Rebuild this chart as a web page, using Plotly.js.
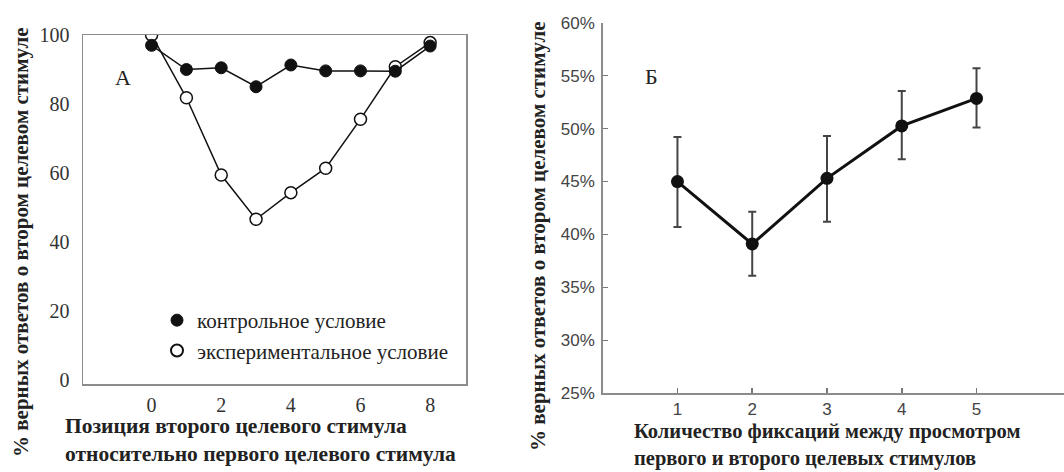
<!DOCTYPE html>
<html>
<head>
<meta charset="utf-8">
<script src="https://cdn.plot.ly/plotly-3.0.1.min.js"></script>
<style>html,body{margin:0;padding:0;background:#fff;}#chart{width:1064px;height:472px;}</style>
</head>
<body>
<div id="chart"></div>
<script>
// ---- Panel А data ----
const positions = [0, 1, 2, 3, 4, 5, 6, 7, 8];
const controlA = [97, 90, 90.5, 85, 91.3, 89.6, 89.6, 89.5, 96.8];
const experimentalA = [100, 81.8, 59.4, 46.6, 54.3, 61.4, 75.6, 90.8, 97.8];
const legendNames = ['контрольное условие', 'экспериментальное условие'];
const ticksA_x = [0, 2, 4, 6, 8];
const ticksA_y = [0, 20, 40, 60, 80, 100];

// ---- Panel Б data ----
const fixations = [1, 2, 3, 4, 5];
const accuracyB = [45.0, 39.1, 45.3, 50.25, 52.85];
const upperB = [49.2, 42.15, 49.3, 53.55, 55.7];
const lowerB = [40.7, 36.1, 41.2, 47.1, 50.1];
const ticksB_x = [1, 2, 3, 4, 5];
const ticksB_y = [25, 30, 35, 40, 45, 50, 55, 60];
const ticksB_ytext = ticksB_y.map(v => v + '%');

// ---- Text ----
const yTitle = '% верных ответов о втором целевом стимуле';
const xTitleA = 'Позиция второго целевого стимула<br>относительно первого целевого стимула';
const xTitleB = 'Количество фиксаций между просмотром<br>первого и второго целевых стимулов';

const W = 1064, H = 472;
const px = v => v / W;
const py = v => 1 - v / H;

const serif = 'Liberation Serif';
const sans = 'Liberation Sans';

const traces = [
  {x: positions, y: experimentalA, xaxis: 'x', yaxis: 'y', mode: 'lines+markers', showlegend: false,
   line: {color: '#111', width: 1.5},
   marker: {symbol: 'circle', size: 12, color: '#fff', line: {color: '#111', width: 1.5}}},
  {x: positions, y: controlA, xaxis: 'x', yaxis: 'y', mode: 'lines+markers', showlegend: false,
   line: {color: '#111', width: 1.5},
   marker: {symbol: 'circle', size: 12, color: '#111', line: {color: '#111', width: 1}}},
  {x: [null], y: [null], xaxis: 'x', yaxis: 'y', mode: 'markers', name: legendNames[0], legendgroup: 'a',
   marker: {symbol: 'circle', size: 12, color: '#111', line: {color: '#111', width: 1}}},
  {x: [null], y: [null], xaxis: 'x', yaxis: 'y', mode: 'markers', name: legendNames[1], legendgroup: 'b',
   marker: {symbol: 'circle', size: 12, color: '#fff', line: {color: '#111', width: 2}}},
  {x: fixations, y: accuracyB, xaxis: 'x2', yaxis: 'y2', mode: 'lines+markers', showlegend: false,
   line: {color: '#111', width: 3},
   marker: {symbol: 'circle', size: 13, color: '#111'},
   error_y: {type: 'data', symmetric: false,
     array: upperB.map((u, i) => u - accuracyB[i]),
     arrayminus: lowerB.map((l, i) => accuracyB[i] - l),
     color: '#444', thickness: 2, width: 4}}
];

const layout = {
  width: W, height: H,
  margin: {l: 0, r: 0, t: 0, b: 0},
  paper_bgcolor: '#fff', plot_bgcolor: 'rgba(0,0,0,0)',
  showlegend: true,
  legend: {x: px(157), y: py(300), xanchor: 'left', yanchor: 'top',
    bgcolor: 'rgba(0,0,0,0)', font: {family: serif, size: 21, color: '#222'},
    tracegroupgap: 0, traceorder: 'grouped'},
  xaxis: {domain: [px(83), px(466)], range: [-1.97, 9.03], tickvals: ticksA_x,
    showgrid: false, zeroline: false, showline: true, mirror: true, linecolor: '#8c8c8c', linewidth: 1.5,
    ticks: '', ticklabelstandoff: 2, tickfont: {family: serif, size: 20, color: '#333'}},
  yaxis: {domain: [py(384), py(35)], range: [-1.16, 100], tickvals: ticksA_y,
    showgrid: false, zeroline: false, showline: true, mirror: true, linecolor: '#8c8c8c', linewidth: 1.5,
    ticks: '', ticklabelstandoff: 8, tickfont: {family: serif, size: 20, color: '#333'}},
  xaxis2: {domain: [px(602.7), 1], range: [0, 6.17], tickvals: ticksB_x, anchor: 'y2',
    showgrid: false, zeroline: false, showline: true, linecolor: '#8c8c8c', linewidth: 1.5,
    ticks: 'inside', ticklen: 5, tickwidth: 1.5, tickcolor: '#777', ticklabelstandoff: 0,
    tickfont: {family: sans, size: 17, color: '#444'}},
  yaxis2: {domain: [py(393.3), py(22.7)], range: [25, 60], tickvals: ticksB_y, ticktext: ticksB_ytext, anchor: 'x2',
    showgrid: false, zeroline: false, showline: true, linecolor: '#8c8c8c', linewidth: 1.5,
    ticks: 'inside', ticklen: 5, tickwidth: 1.5, tickcolor: '#777', ticklabelstandoff: 3,
    tickfont: {family: sans, size: 17, color: '#444'}},
  annotations: [
    {text: yTitle, xref: 'paper', yref: 'paper', x: px(21), y: py(242), xanchor: 'center', yanchor: 'middle',
     textangle: -90, showarrow: false, font: {family: serif, size: 21, weight: 'bold', color: '#222'}},
    {text: yTitle, xref: 'paper', yref: 'paper', x: px(538), y: py(236), xanchor: 'center', yanchor: 'middle',
     textangle: -90, showarrow: false, font: {family: serif, size: 21, weight: 'bold', color: '#222'}},
    {text: xTitleA, xref: 'paper', yref: 'paper', x: px(63), y: py(440), xanchor: 'left', yanchor: 'middle',
     align: 'left', showarrow: false, font: {family: serif, size: 21.5, weight: 'bold', color: '#222'}},
    {text: xTitleB, xref: 'paper', yref: 'paper', x: px(632), y: py(445), xanchor: 'left', yanchor: 'middle',
     align: 'left', showarrow: false, font: {family: serif, size: 20.5, weight: 'bold', color: '#222'}},
    {text: 'А', xref: 'paper', yref: 'paper', x: px(123), y: py(77), xanchor: 'center', yanchor: 'middle',
     showarrow: false, font: {family: serif, size: 22, color: '#222'}},
    {text: 'Б', xref: 'paper', yref: 'paper', x: px(651.5), y: py(76.5), xanchor: 'center', yanchor: 'middle',
     showarrow: false, font: {family: serif, size: 22, color: '#222'}}
  ]
};

Plotly.newPlot('chart', traces, layout, {displayModeBar: false, staticPlot: true});
</script>
</body>
</html>
